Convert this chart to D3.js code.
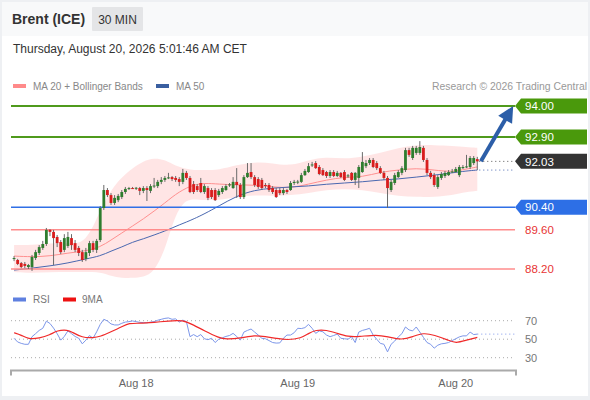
<!DOCTYPE html>
<html><head><meta charset="utf-8">
<script src="https://cdn.jsdelivr.net/npm/d3@7"></script>
<style>
html,body{margin:0;padding:0;background:#eef0f3;}
svg{display:block;font-family:"Liberation Sans", Arial, sans-serif;}
</style></head><body>
<svg id="c" width="590" height="400"></svg>
<script>
// ---------- DATA ----------
const opens=[88.56,88.52,88.41,88.38,88.27,88.27,88.59,88.77,88.95,89.09,
89.59,89.52,89.34,89.16,88.88,89.02,89.30,89.12,88.95,88.80,
88.56,88.77,89.12,88.88,89.23,90.37,91.01,90.83,90.55,90.65,
90.76,90.94,91.05,91.08,91.08,91.08,90.98,91.08,90.98,91.15,
91.15,91.30,91.37,91.44,91.47,91.44,91.40,91.30,91.62,91.44,
91.22,91.15,91.26,90.94,91.08,91.01,91.01,90.83,90.94,91.01,
91.19,91.08,91.30,91.19,90.76,91.47,91.65,91.47,91.40,91.37,
91.19,91.19,91.08,91.01,91.01,90.90,91.01,91.01,91.26,91.30,
91.30,91.54,91.65,91.90,91.97,91.83,91.72,91.65,91.51,91.65,
91.51,91.62,91.65,91.51,91.62,91.37,91.44,91.65,91.86,91.97,
92.08,91.97,91.79,91.62,91.44,91.01,91.26,91.47,91.62,91.72,
92.43,92.15,92.33,92.33,92.51,92.08,91.62,91.54,91.12,91.44,
91.51,91.54,91.65,91.65,91.54,91.79,91.83,91.83,91.97,92.11];
const highs=[88.66,88.56,88.45,88.45,88.38,88.70,88.88,89.05,89.20,89.66,
89.62,89.59,89.41,89.23,89.44,89.52,89.44,89.23,89.02,88.88,
88.95,89.20,89.20,89.27,90.44,91.19,91.08,90.90,90.83,90.87,
91.01,91.12,91.12,91.12,91.12,91.12,91.15,91.15,91.22,91.44,
91.37,91.47,91.51,91.62,91.51,91.51,91.47,91.76,91.69,91.51,
91.33,91.22,91.44,91.22,91.15,91.08,91.08,91.05,91.15,91.22,
91.26,91.47,91.79,91.26,91.54,91.97,91.97,91.54,91.47,91.44,
91.26,91.26,91.15,91.08,91.08,91.08,91.05,91.33,91.37,91.37,
91.62,91.76,91.97,92.01,92.04,91.90,91.79,91.69,91.72,91.72,
91.69,91.65,91.72,91.58,91.65,91.65,91.90,92.36,92.08,92.15,
92.15,92.04,91.86,91.69,91.51,91.37,91.62,91.72,91.86,92.51,
92.51,92.58,92.58,92.75,92.58,92.15,91.69,91.62,91.54,91.65,
91.69,91.72,91.76,91.83,91.90,91.90,92.26,92.22,92.22,92.19];
const lows=[88.48,88.34,88.23,88.23,88.20,88.13,88.52,88.70,88.88,89.02,
89.37,88.34,88.98,88.73,88.80,88.95,88.88,88.80,88.66,88.45,
88.48,88.66,88.80,88.77,89.16,90.30,90.76,90.48,90.48,90.58,
90.69,90.87,91.01,91.05,91.01,90.83,90.90,90.62,90.90,91.08,
91.08,91.22,91.30,91.40,91.33,91.30,91.15,91.22,91.37,90.90,
90.87,90.94,90.90,90.87,90.65,90.69,90.62,90.76,90.87,90.98,
91.12,91.05,90.73,90.69,90.69,91.44,91.40,91.12,91.05,91.01,
91.08,90.94,90.87,90.73,90.83,90.83,90.87,90.98,91.19,91.22,
91.26,91.51,91.62,91.83,91.76,91.54,91.51,91.44,91.44,91.47,
91.47,91.44,91.33,91.44,91.33,91.19,91.08,91.62,91.79,91.90,
91.79,91.72,91.58,91.37,90.37,90.94,91.19,91.44,91.54,91.65,
92.19,92.08,92.26,92.26,92.01,91.54,91.40,91.12,91.05,91.37,
91.44,91.51,91.62,91.62,91.47,91.76,91.79,91.76,91.90,91.72];
const closes=[88.59,88.38,88.27,88.31,88.34,88.63,88.80,88.98,89.09,89.59,
89.52,89.30,89.12,88.80,89.30,89.34,89.05,88.88,88.77,88.52,
88.80,89.12,88.88,89.20,90.37,91.01,90.83,90.55,90.73,90.80,
90.94,91.05,91.08,91.07,91.09,90.98,91.08,91.01,91.15,91.17,
91.30,91.37,91.44,91.46,91.40,91.37,91.30,91.62,91.44,90.94,
90.94,91.01,90.94,91.15,90.73,90.76,90.65,90.98,91.08,91.15,
91.21,91.30,91.19,90.76,91.47,91.62,91.47,91.19,91.12,91.08,
91.17,91.01,90.94,90.76,90.90,91.01,90.94,91.26,91.30,91.31,
91.54,91.69,91.86,91.92,91.79,91.58,91.54,91.51,91.65,91.51,
91.62,91.47,91.37,91.53,91.37,91.62,91.83,92.01,91.97,92.08,
91.83,91.79,91.62,91.44,91.08,91.30,91.54,91.65,91.79,92.43,
92.26,92.51,92.51,92.54,92.08,91.62,91.47,91.19,91.47,91.58,
91.62,91.65,91.67,91.76,91.83,91.83,91.85,92.15,92.15,92.03];

// indicator samples (candle index -> value)
const bandIdx=[0,5,10,15,20,24,27,30,33,36,39,42,44,46,48,50,53,57,62,67,72,77,82,87,92,97,102,107,112,117,122,126,129];
const bandUpper=[89.05,89.05,89.12,89.12,89.09,90.30,91.01,91.47,91.79,92.04,92.15,92.08,91.94,91.83,91.76,91.72,91.72,91.72,91.90,92.01,91.97,91.86,92.08,92.19,92.11,92.19,92.33,92.51,92.61,92.61,92.58,92.54,92.51];
const bandLower=[88.09,88.06,88.09,88.09,88.09,88.09,87.95,87.88,87.88,87.91,88.09,88.88,89.77,90.37,90.65,90.69,90.65,90.65,90.76,90.83,90.80,90.83,90.90,91.01,91.05,91.01,90.90,90.80,90.76,90.76,90.83,90.94,90.98];
const ma20=[88.66,88.63,88.66,88.77,88.84,88.98,89.23,89.48,89.73,89.98,90.26,90.55,90.76,90.94,91.08,91.19,91.26,91.22,91.19,91.19,91.12,91.08,91.22,91.37,91.47,91.47,91.65,91.72,91.79,91.72,91.65,91.76,91.83];
const ma50=[88.16,88.23,88.31,88.41,88.56,88.66,88.84,88.98,89.16,89.27,89.41,89.55,89.66,89.77,89.87,89.98,90.16,90.44,90.80,91.01,91.08,91.12,91.15,91.22,91.26,91.30,91.37,91.40,91.47,91.54,91.62,91.69,91.72];

const rsi=[51,47,45.5,44.5,44.5,52.7,56,59.5,61.8,69.5,
67,62,56,49,53,59,56,53,51,45,
49,54,51,58,66,71.5,69.7,66.5,65.4,65.4,
67.2,68.5,69,69.7,69,68.2,68,67.7,68.5,69,
70.5,71.5,72.5,73,71.5,72,68.5,70.6,69,52.7,
55,52.7,55,50.5,49.5,51,46.4,50,51.5,53,
54,56.3,53,49,57.7,59.5,61,57.7,54.5,51,
50.5,48.5,46.4,45.8,46,51,54.5,54.5,57,61.8,
61.5,62.5,66,61.8,56.3,59,58,54.5,52.7,54,
55.5,51,50.5,50,52.7,46.4,57.7,59.5,60.5,61.8,
54.5,50,45.5,44.5,36.3,44.5,48,52.5,56,63.2,
60,59,63.2,57.7,52,46.4,44.5,40.3,43.5,45,
45.5,46.4,48.5,50.5,52.5,53.6,53.6,57.7,55,55.5];
const ma9Idx=[0,2,4,7,10,12,15,16,19,22,24,27,30,32,35,39,43,47,50,53,57,59,63,67,70,73,76,80,82,84,87,90,93,96,101,104,108,111,114,117,121,123,126,129];
const ma9=[57,54.5,50,51,54.5,59.6,60,58,51.6,51.6,52.7,58,63.3,67.6,67,68.2,69.7,70.8,65.4,59,51.6,50,51,54.5,52.7,51,49,51,56.3,60,60,56.3,52.7,52.7,55,52.7,49,52.7,57,54.5,49,45.5,49,52];

const resistLevels=[94.00,92.90];
const supportLevel=90.40;
const lowerLevels=[89.60,88.20];
const lastPrice=92.03;
const targetPrice=94.00;
const dayTickIdx=[34,79,123];
const dayTickLabels=["Aug 18","Aug 19","Aug 20"];
const rsiTicks=[70,50,30];

// ---------- DRAW ----------
const svg=d3.select("#c");
const X0=11, X1=515;
const x=d3.scaleLinear().domain([-0.85,139.5]).range([X0,X1]);
const y=d3.scaleLinear().domain([88.2,94]).range([269,106]);
const yr=d3.scaleLinear().domain([30,70]).range([357.7,320.7]);

// frame
svg.append("rect").attr("x",0).attr("y",0).attr("width",590).attr("height",400).attr("fill","#eef0f3");
svg.append("rect").attr("x",2).attr("y",2).attr("width",586).attr("height",34).attr("fill","#f8f9fa");
svg.append("rect").attr("x",2).attr("y",36).attr("width",586).attr("height",360).attr("fill","#ffffff");

// header
svg.append("text").attr("x",12).attr("y",24).attr("font-size",14).attr("font-weight","bold").attr("fill","#333").text("Brent (ICE)");
svg.append("rect").attr("x",92).attr("y",7).attr("width",51).attr("height",24).attr("fill","#e4e5e7").attr("rx",1);
svg.append("text").attr("x",117.5).attr("y",23.5).attr("text-anchor","middle").attr("font-size",12).attr("fill","#333").text("30 MIN");
svg.append("text").attr("x",13).attr("y",53).attr("font-size",12).attr("fill","#333").text("Thursday, August 20, 2026 5:01:46 AM CET");

// legend
svg.append("rect").attr("x",13).attr("y",84).attr("width",13).attr("height",4).attr("fill","#ff8a8a");
svg.append("text").attr("x",33).attr("y",90).attr("font-size",10).attr("fill","#888").text("MA 20 + Bollinger Bands");
svg.append("rect").attr("x",156).attr("y",84).attr("width",13).attr("height",4).attr("fill","#3a5fa0");
svg.append("text").attr("x",176).attr("y",90).attr("font-size",10).attr("fill","#888").text("MA 50");
svg.append("text").attr("x",587).attr("y",90).attr("text-anchor","end").attr("font-size",10.4).attr("fill","#999").text("Research \u00a9 2026 Trading Central");

// bands
const bandData=bandIdx.map((d,i)=>({i:d,u:bandUpper[i],l:bandLower[i],m:ma20[i],m50:ma50[i]}));
svg.append("path").datum(bandData)
  .attr("d",d3.area().x(d=>x(d.i)).y0(d=>y(d.l)).y1(d=>y(d.u)).curve(d3.curveBasis))
  .attr("fill","#ffe1e1").attr("opacity",0.85);
svg.append("path").datum(bandData)
  .attr("d",d3.line().x(d=>x(d.i)).y(d=>y(d.m)).curve(d3.curveBasis))
  .attr("fill","none").attr("stroke","#ff9090").attr("stroke-width",1);
svg.append("path").datum(bandData)
  .attr("d",d3.line().x(d=>x(d.i)).y(d=>y(d.m50)).curve(d3.curveBasis))
  .attr("fill","none").attr("stroke","#4a68b0").attr("stroke-width",1);

// levels
resistLevels.forEach(v=>{
  svg.append("line").attr("x1",X0).attr("x2",X1).attr("y1",y(v)).attr("y2",y(v)).attr("stroke","#4f9a1c").attr("stroke-width",2);
});
svg.append("line").attr("x1",X0).attr("x2",X1).attr("y1",y(supportLevel)).attr("y2",y(supportLevel)).attr("stroke","#2f6fe6").attr("stroke-width",1.5);
lowerLevels.forEach(v=>{
  svg.append("line").attr("x1",X0).attr("x2",X1).attr("y1",y(v)).attr("y2",y(v)).attr("stroke","#ff8c8c").attr("stroke-width",1.5);
});

// candles
const candles=closes.map((c,i)=>({i,o:opens[i],h:highs[i],l:lows[i],c}));
const cg=svg.append("g");
cg.selectAll("line.w").data(candles).join("line")
  .attr("x1",d=>x(d.i)).attr("x2",d=>x(d.i)).attr("y1",d=>y(d.h)).attr("y2",d=>y(d.l))
  .attr("stroke","#6a6a6a").attr("stroke-width",1);
const bw=2.8;
cg.selectAll("rect.b").data(candles).join("rect")
  .attr("x",d=>x(d.i)-bw/2).attr("width",bw)
  .attr("y",d=>y(Math.max(d.o,d.c)))
  .attr("height",d=>Math.max(1,Math.abs(y(d.o)-y(d.c))))
  .attr("fill",d=>d.c>=d.o?"#2f7d2f":"#d81d1d");

// dotted extensions
const lastI=closes.length-1;
svg.append("line").attr("x1",x(lastI)+2).attr("x2",X1).attr("y1",y(lastPrice)).attr("y2",y(lastPrice))
  .attr("stroke","#555").attr("stroke-width",1).attr("stroke-dasharray","1,3");
svg.append("line").attr("x1",x(lastI)+2).attr("x2",X1).attr("y1",y(ma50[ma50.length-1])).attr("y2",y(ma50[ma50.length-1]))
  .attr("stroke","#4a68b0").attr("stroke-width",1).attr("stroke-dasharray","1,3");

// arrow
(function(){
  const x1=x(lastI+1), y1=y(lastPrice), x2=x(139), y2=y(targetPrice);
  const dx=x2-x1, dy=y2-y1, len=Math.hypot(dx,dy), ux=dx/len, uy=dy/len;
  const hl=16, hw=8;
  const bx=x2-ux*hl, by=y2-uy*hl;
  svg.append("line").attr("x1",x1).attr("y1",y1).attr("x2",bx+ux*2).attr("y2",by+uy*2)
    .attr("stroke","#2c5ea8").attr("stroke-width",4);
  svg.append("path").attr("d",`M${x2},${y2}L${bx-uy*hw},${by+ux*hw}L${bx+uy*hw},${by-ux*hw}Z`).attr("fill","#2c5ea8");
})();

// price labels
function tag(v,fill){
  const c=y(v);
  svg.append("path").attr("d",`M${X1},${c}L${X1+6},${c-7.5}L587,${c-7.5}L587,${c+7.5}L${X1+6},${c+7.5}Z`).attr("fill",fill);
  svg.append("text").attr("x",525).attr("y",c+4.2).attr("font-size",11.5).attr("fill","#fff").text(v.toFixed(2));
}
resistLevels.forEach(v=>tag(v,"#4a990c"));
tag(lastPrice,"#333333");
tag(supportLevel,"#2d6fe6");
lowerLevels.forEach(v=>{
  svg.append("text").attr("x",525).attr("y",y(v)+4.2).attr("font-size",11.5).attr("fill","#e83434").text(v.toFixed(2));
});

// RSI panel
svg.append("rect").attr("x",13).attr("y",297.5).attr("width",13).attr("height",4).attr("fill","#5f80e0");
svg.append("text").attr("x",33).attr("y",303).attr("font-size",10).attr("fill","#777").text("RSI");
svg.append("rect").attr("x",63).attr("y",297.5).attr("width",13).attr("height",4).attr("fill","#ee1111");
svg.append("text").attr("x",82).attr("y",303).attr("font-size",10).attr("fill","#777").text("9MA");
rsiTicks.forEach(t=>{
  svg.append("line").attr("x1",X0).attr("x2",X1).attr("y1",yr(t)).attr("y2",yr(t))
    .attr("stroke","#aaa").attr("stroke-width",1).attr("stroke-dasharray","1,3");
  svg.append("text").attr("x",525).attr("y",yr(t)+4.2).attr("font-size",11).attr("fill","#777").text(t);
});
svg.append("path").datum(rsi)
  .attr("d",d3.line().x((d,i)=>x(i)).y(d=>yr(d)))
  .attr("fill","none").attr("stroke","#7d97ea").attr("stroke-width",1);
svg.append("line").attr("x1",x(lastI)).attr("x2",X1).attr("y1",yr(rsi[lastI])).attr("y2",yr(rsi[lastI]))
  .attr("stroke","#7d97ea").attr("stroke-width",1).attr("stroke-dasharray","1,3");
svg.append("path").datum(ma9Idx.map((d,i)=>[d,ma9[i]]))
  .attr("d",d3.line().x(d=>x(d[0])).y(d=>yr(d[1])).curve(d3.curveBasis))
  .attr("fill","none").attr("stroke","#f02a2a").attr("stroke-width",1.2);

// x axis
const ax=svg.append("g");
ax.append("path").attr("d",`M${X0},375.5V370.5H${X1+1}V375.5`).attr("fill","none").attr("stroke","#aaa").attr("stroke-width",2);
dayTickIdx.forEach((d,k)=>{
  ax.append("text").attr("x",x(d)).attr("y",387).attr("text-anchor","middle").attr("font-size",11).attr("fill","#666").text(dayTickLabels[k]);
});
</script>
</body></html>
